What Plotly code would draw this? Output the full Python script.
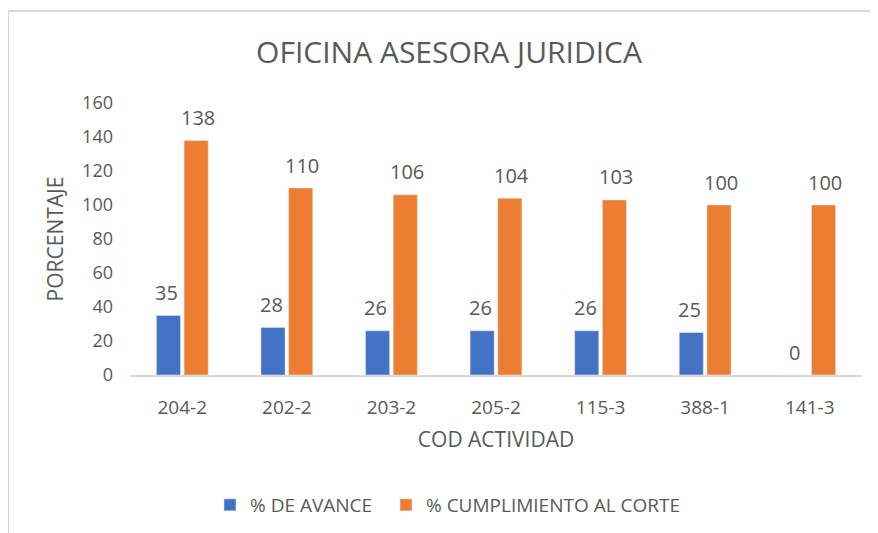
import plotly.graph_objects as go

categories = ["204-2", "202-2", "203-2", "205-2", "115-3", "388-1", "141-3"]
avance = [35, 28, 26, 26, 26, 25, 0]
cumplimiento = [138, 110, 106, 104, 103, 100, 100]
series_names = ["% DE AVANCE", "% CUMPLIMIENTO AL CORTE"]
colors = ["#4472C4", "#ED7D31"]

FONT = "Open Sans"
GRAY = "#595959"

# page has an 8px body margin; figure coords = screen coords - 8
OFF = 8
W, H = 878 - OFF, 533 - OFF
L, T = 130 - OFF, 103 - OFF
R = W - (862 - OFF)
B = H - (375 - OFF)
pw = W - L - R
ph = H - T - B

legend_ids = ["legend", "legend2"]
legend_x = [210, 386]  # screen x of each legend entry start

fig = go.Figure()
for name, vals, col, lid in zip(series_names, [avance, cumplimiento], colors, legend_ids):
    fig.add_trace(go.Bar(x=categories, y=vals, name=name, marker_color=col, legend=lid))

# data labels above bars
for vals, xs in zip([avance, cumplimiento], [-15.5, 15.5]):
    for c, v in zip(categories, vals):
        fig.add_annotation(x=c, y=v, xref="x", yref="y", text=str(v),
                           showarrow=False, xshift=xs, yshift=23,
                           yanchor="middle", xanchor="center",
                           font=dict(family=FONT, size=20, color=GRAY))

leg_common = dict(orientation="h", yanchor="middle", xanchor="left",
                  y=-(505 - 375) / ph, itemwidth=30,
                  font=dict(family=FONT, size=19, color=GRAY),
                  bgcolor="rgba(0,0,0,0)")

fig.update_layout(
    width=W, height=H,
    margin=dict(l=L, r=R, t=T, b=B, autoexpand=False),
    paper_bgcolor="white", plot_bgcolor="white",
    barmode="group", bargap=0.47, bargroupgap=0.13,
    title=dict(text="OFICINA ASESORA JURIDICA", x=(449 - OFF) / W, xanchor="center",
               y=1 - (52 - OFF) / H, yanchor="middle",
               font=dict(family=FONT, size=30, color=GRAY)),
    font=dict(family=FONT, color=GRAY),
    showlegend=True,
    legend=dict(x=(legend_x[0] - 130) / pw, **leg_common),
    legend2=dict(x=(legend_x[1] - 130) / pw, **leg_common),
    xaxis=dict(showline=True, linecolor="#D9D9D9", linewidth=1.5,
               ticks="", ticklabelstandoff=14,
               tickfont=dict(family=FONT, size=19, color=GRAY),
               title=dict(text="COD ACTIVIDAD", standoff=14,
                          font=dict(family=FONT, size=21, color=GRAY))),
    yaxis=dict(range=[0, 160], dtick=20, showgrid=False, zeroline=False,
               showline=False, ticks="", ticklabelstandoff=16,
               tickfont=dict(family=FONT, size=18, color=GRAY),
               title=dict(text="PORCENTAJE", standoff=12,
                          font=dict(family=FONT, size=21, color=GRAY))),
)

# chart border (left and top edges visible)
bx = (8 - 130) / pw
by = (375 - 11) / ph
fig.add_shape(type="line", xref="paper", yref="paper",
              x0=bx, x1=bx, y0=-(533 - 375) / ph - 0.05, y1=by,
              line=dict(color="#D9D9D9", width=2))
fig.add_shape(type="line", xref="paper", yref="paper",
              x0=bx, x1=(878 + 5 - 130) / pw, y0=by, y1=by,
              line=dict(color="#D9D9D9", width=2))

fig.write_html("out.html")
